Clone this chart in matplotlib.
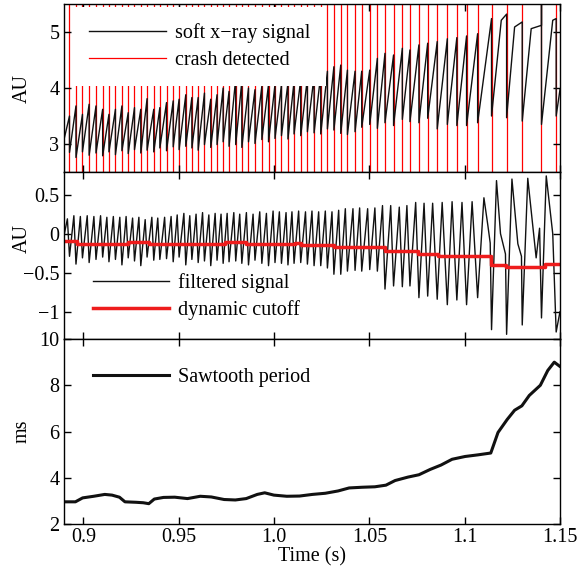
import matplotlib
matplotlib.use("Agg")
import matplotlib.pyplot as plt

plt.rcParams['font.family'] = ['Liberation Serif', 'DejaVu Serif']
plt.rcParams['font.size'] = 14.5
plt.rcParams['axes.linewidth'] = 1.0

# crash times (s)
crash_times = [0.8927, 0.8961, 0.8995, 0.9030, 0.9066, 0.9101, 0.9134, 0.9168, 0.9202, 0.9235,
               0.9268, 0.9301, 0.9334, 0.9369, 0.9401, 0.9436, 0.9471, 0.9502, 0.9537, 0.9569,
               0.9602, 0.9635, 0.9668, 0.9701, 0.9733, 0.9764, 0.9799, 0.9831, 0.9866, 0.9900,
               0.9936, 0.9971, 1.0005, 1.0039, 1.0073, 1.0105, 1.0140, 1.0175, 1.0210, 1.0245,
               1.0280, 1.0314, 1.0350, 1.0385, 1.0425, 1.0460, 1.0502, 1.0542, 1.0582, 1.0627,
               1.0673, 1.0713, 1.0760, 1.0806, 1.0856, 1.0909, 1.0959, 1.1010, 1.1068, 1.1141,
               1.1220, 1.1302, 1.1403, 1.1480]

# soft x-ray level just before each crash and just after it
sxr_peak = [3.50, 3.68, 3.53, 3.71, 3.68, 3.62, 3.53, 3.62, 3.68, 3.56,
            3.65, 3.62, 3.81, 3.62, 3.65, 3.74, 3.77, 3.80, 3.88, 3.83,
            3.83, 3.91, 3.80, 3.88, 4.00, 3.94, 4.17, 4.12, 4.00, 3.97,
            4.03, 4.06, 4.06, 4.06, 4.09, 4.12, 4.15, 4.18, 4.21, 4.24,
            4.30, 4.38, 4.41, 4.32, 4.30, 4.30, 4.32, 4.53, 4.62, 4.59,
            4.71, 4.68, 4.77, 4.80, 4.83, 4.88, 4.90, 4.93, 4.97, 5.24,
            5.32, 5.18, 5.12, 5.24]
sxr_min = [2.85, 2.76, 2.86, 2.80, 2.84, 2.79, 2.86, 2.81, 2.88, 2.83,
           2.90, 2.84, 2.89, 2.86, 2.93, 2.88, 2.95, 2.90, 2.96, 2.93,
           2.89, 2.99, 2.94, 2.99, 3.04, 2.96, 2.99, 2.94, 3.04, 3.01,
           3.08, 3.04, 3.10, 3.15, 3.09, 3.18, 3.15, 3.22, 3.20, 3.18,
           3.27, 3.25, 3.19, 3.17, 3.22, 3.30, 3.35, 3.28, 3.38, 3.33,
           3.44, 3.40, 3.38, 3.46, 3.27, 3.35, 3.33, 3.33, 3.38, 3.50,
           3.47, 3.41, 3.35, 3.50]
sxr_start = (0.8896, 3.05)
sxr_end = (1.1500, 3.97)
# flattening of the last long sawteeth
sxr_knee_t = [1.1192, 1.1262, 1.1349, 1.1462]
sxr_knee_v = [5.21, 5.09, 5.06, 5.21]
spike_index = 62
spike_value = 5.7

# filtered signal: troughs at the crashes, peaks in between
filt_trough = [-0.29, -0.39, -0.31, -0.37, -0.33, -0.30, -0.36, -0.33, -0.40, -0.31,
               -0.35, -0.41, -0.30, -0.34, -0.33, -0.32, -0.36, -0.30, -0.40, -0.33,
               -0.37, -0.35, -0.41, -0.34, -0.38, -0.36, -0.35, -0.38, -0.40, -0.34,
               -0.38, -0.41, -0.37, -0.38, -0.40, -0.38, -0.37, -0.39, -0.41, -0.41,
               -0.44, -0.52, -0.52, -0.48, -0.47, -0.48, -0.46, -0.48, -0.71, -0.67,
               -0.68, -0.67, -0.82, -0.80, -0.84, -0.91, -0.85, -0.91, -0.82, -1.23,
               -1.29, -1.17, -1.08, -1.26]
filt_peak_t = [0.8916, 0.8950, 0.8984, 0.9020, 0.9055, 0.9090, 0.9123, 0.9157, 0.9191, 0.9224,
               0.9258, 0.9291, 0.9324, 0.9359, 0.9390, 0.9426, 0.9460, 0.9492, 0.9527, 0.9558,
               0.9591, 0.9625, 0.9658, 0.9691, 0.9722, 0.9754, 0.9789, 0.9820, 0.9855, 0.9890,
               0.9925, 0.9960, 0.9995, 1.0028, 1.0063, 1.0094, 1.0129, 1.0165, 1.0199, 1.0234,
               1.0269, 1.0304, 1.0339, 1.0374, 1.0414, 1.0449, 1.0491, 1.0529, 1.0569, 1.0612,
               1.0657, 1.0697, 1.0743, 1.0787, 1.0832, 1.0882, 1.0934, 1.0986, 1.1039, 1.1101,
               1.1167, 1.1248, 1.1331, 1.1428]
filt_peak_v = [0.19, 0.23, 0.22, 0.23, 0.22, 0.23, 0.21, 0.22, 0.21, 0.22,
               0.20, 0.21, 0.18, 0.21, 0.20, 0.21, 0.22, 0.24, 0.26, 0.23,
               0.25, 0.27, 0.24, 0.26, 0.25, 0.26, 0.27, 0.25, 0.27, 0.25,
               0.28, 0.26, 0.29, 0.28, 0.27, 0.28, 0.29, 0.28, 0.29, 0.28,
               0.29, 0.28, 0.30, 0.32, 0.32, 0.33, 0.32, 0.33, 0.36, 0.36,
               0.34, 0.36, 0.40, 0.39, 0.39, 0.40, 0.41, 0.40, 0.41, 0.46,
               0.68, 0.70, 0.71, 0.74]
filt_shoulder_t = [1.1122, 1.1134, 1.1188, 1.1214, 1.1279, 1.1298, 1.1375, 1.1393, 1.1462]
filt_shoulder_v = [0.10, -0.12, 0.00, -0.26, -0.13, -0.29, -0.31, 0.07, 0.00]
filt_start = (0.8896, -0.05)
filt_end = (1.1500, -1.00)

# dynamic cutoff (step changes)
cut_t = [0.8896, 0.8966, 0.9235, 0.9343, 0.9744, 0.9852, 1.0108, 1.0140,
         1.0313, 1.0580, 1.0753, 1.0858, 1.1139, 1.1218, 1.1419, 1.1500]
cut_v = [-0.100, -0.135, -0.112, -0.135, -0.112, -0.138, -0.115, -0.145,
         -0.170, -0.225, -0.265, -0.285, -0.400, -0.427, -0.385, -0.385]

# sawtooth period (ms)
period_t = [0.8896, 0.8958, 0.8996, 0.9054, 0.9112, 0.9150, 0.9189, 0.9218, 0.9276, 0.9314,
            0.9343, 0.9372, 0.9420, 0.9479, 0.9546, 0.9613, 0.9671, 0.9738, 0.9797, 0.9854,
            0.9912, 0.9951, 0.9999, 1.0067, 1.0134, 1.0201, 1.0269, 1.0336, 1.0394, 1.0462,
            1.0529, 1.0587, 1.0635, 1.0703, 1.0760, 1.0819, 1.0876, 1.0934, 1.1002, 1.1069,
            1.1137, 1.1175, 1.1223, 1.1262, 1.1300, 1.1339, 1.1397, 1.1436, 1.1470, 1.1497]
period_ms = [2.96, 2.96, 3.13, 3.20, 3.28, 3.25, 3.16, 2.96, 2.94, 2.92,
             2.88, 3.08, 3.15, 3.16, 3.10, 3.20, 3.17, 3.06, 3.04, 3.10,
             3.28, 3.35, 3.25, 3.20, 3.21, 3.28, 3.33, 3.43, 3.56, 3.59,
             3.61, 3.68, 3.88, 4.03, 4.13, 4.36, 4.55, 4.80, 4.92, 4.99,
             5.07, 5.96, 6.52, 6.92, 7.11, 7.56, 8.00, 8.64, 9.00, 8.83]

xticks = [0.9, 0.95, 1.0, 1.05, 1.1, 1.15]
xtick_labels = ['0.9', '0.95', '1.0', '1.05', '1.1', '1.15']


def build_sxr():
    xs, ys = [sxr_start[0]], [sxr_start[1]]
    for i, t in enumerate(crash_times):
        xs.append(t)
        ys.append(sxr_peak[i])
        if i == spike_index:
            xs.append(t)
            ys.append(spike_value)
        xs.append(t)
        ys.append(sxr_min[i])
        t_next = crash_times[i + 1] if i + 1 < len(crash_times) else sxr_end[0]
        for kt, kv in zip(sxr_knee_t, sxr_knee_v):
            if t < kt < t_next:
                xs.append(kt)
                ys.append(kv)
    xs.append(sxr_end[0])
    ys.append(sxr_end[1])
    return xs, ys


def build_filtered():
    pts = [filt_start, filt_end]
    pts += list(zip(crash_times, filt_trough))
    pts += list(zip(filt_peak_t, filt_peak_v))
    pts += list(zip(filt_shoulder_t, filt_shoulder_v))
    pts.sort()
    return [p[0] for p in pts], [p[1] for p in pts]


def style_axis(ax, ylabel, label_y=0.5):
    ax.set_xlim(0.8896, 1.15)
    ax.set_xticks(xticks)
    ax.tick_params(direction='in', top=True, right=True, length=5, width=1, pad=3)
    ax.set_ylabel(ylabel)
    # set_ylabel resets y, so place the label afterwards
    ax.yaxis.set_label_coords(-0.064, label_y)


fig = plt.figure(figsize=(5.77, 5.67), dpi=100)
left, width = 0.1102, 0.8603
ax1 = fig.add_axes([left, 0.6966, width, 0.2963])
ax2 = fig.add_axes([left, 0.4021, width, 0.2945])
ax3 = fig.add_axes([left, 0.0758, width, 0.3263])

# top: soft x-ray signal with detected crashes
for k, t in enumerate(crash_times):
    ax1.axvline(t, color='red', linewidth=0.9, zorder=1,
                label='crash detected' if k == 0 else None)
sx, sy = build_sxr()
ax1.plot(sx, sy, color='#111111', linewidth=1.0, zorder=2, label='soft x\u2212ray signal')
style_axis(ax1, 'AU')
ax1.set_ylim(2.5, 5.5)
ax1.set_yticks([3, 4, 5])
ax1.set_xticklabels([])
h, l = ax1.get_legend_handles_labels()
ax1.legend(h[::-1], l[::-1], loc='upper left', bbox_to_anchor=(0.019, 0.985), borderaxespad=0,
           frameon=True, fancybox=False, edgecolor='none', facecolor='white', framealpha=1,
           handlelength=3.8, handletextpad=0.45, borderpad=0.8, labelspacing=0.4)

# middle: filtered signal and dynamic cutoff
fx, fy = build_filtered()
ax2.plot(fx, fy, color='#111111', linewidth=1.0, label='filtered signal')
ax2.plot(cut_t, cut_v, color='#ee1c1c', linewidth=2.5, drawstyle='steps-post', label='dynamic cutoff')
style_axis(ax2, 'AU', label_y=0.6)
ax2.set_ylim(-1.35, 0.79)
ax2.set_yticks([-1, -0.5, 0, 0.5])
ax2.set_yticklabels(['\u22121', '\u22120.5', '0', '0.5'])
ax2.set_xticklabels([])
ax2.legend(loc='upper left', bbox_to_anchor=(0.059, 0.395), borderaxespad=0, frameon=False,
           handlelength=3.8, handletextpad=0.45, borderpad=0, labelspacing=0.35)

# bottom: sawtooth period
ax3.plot(period_t, period_ms, color='#111111', linewidth=2.2, label='Sawtooth period')
style_axis(ax3, 'ms')
ax3.set_ylim(2, 10)
ax3.set_yticks([2, 4, 6, 8, 10])
ax3.set_xticklabels(xtick_labels)
ax3.set_xlabel('Time (s)', labelpad=0)
ax3.legend(loc='upper left', bbox_to_anchor=(0.059, 0.845), borderaxespad=0, frameon=False,
           handlelength=3.8, handletextpad=0.45, borderpad=0)

fig.savefig('out.png', dpi=100)
